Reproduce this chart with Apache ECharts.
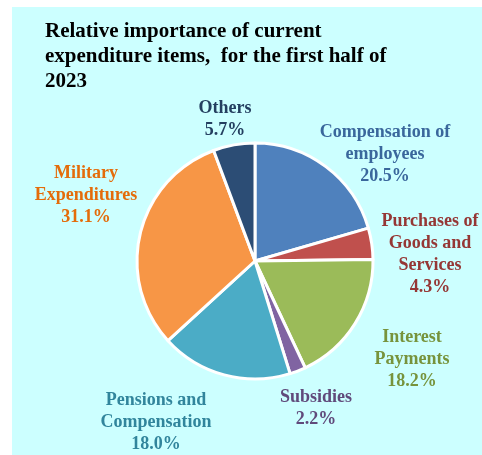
<!DOCTYPE html>
<html>
<head>
<meta charset="utf-8">
<script src="https://cdn.jsdelivr.net/npm/echarts@6/dist/echarts.min.js"></script>
<style>
html,body{margin:0;padding:0;background:#ffffff;}
#chart{width:482px;height:455px;}
</style>
</head>
<body>
<div id="chart"></div>
<script>
const categories = [
  'Compensation of\nemployees',
  'Purchases of\nGoods and\nServices',
  'Interest\nPayments',
  'Subsidies',
  'Pensions and\nCompensation',
  'Military\nExpenditures',
  'Others'
];
const values = [20.5, 4.3, 18.2, 2.2, 18.0, 31.1, 5.7];
const sliceColors = ['#4f81bd', '#c0504d', '#9bbb59', '#8064a2', '#4bacc6', '#f79646', '#2c4d75'];
const labelColors = ['#3a679c', '#953735', '#77933c', '#604a7b', '#31859c', '#e46c0a', '#243f60'];
const labelCenters = [[385, 154], [430, 254], [412, 359], [316, 408], [156, 422], [86, 195], [225, 119]];
const titleText = 'Relative importance of current\nexpenditure items,  for the first half of\n2023';

const chart = echarts.init(document.getElementById('chart'), null, {renderer: 'canvas'});
const font = 'Liberation Serif';

chart.setOption({
  backgroundColor: '#ffffff',
  animation: false,
  graphic: [{
    type: 'rect', z: -10,
    shape: {x: 12, y: 7, width: 470, height: 448},
    style: {fill: '#ccffff'}
  }],
  title: {
    text: titleText,
    left: 45, top: 19, padding: 0,
    textStyle: {fontFamily: font, fontWeight: 'bold', fontSize: 21, lineHeight: 25, color: '#000000'}
  },
  series: [{
    type: 'pie',
    center: [255, 261],
    radius: 118,
    startAngle: 90,
    clockwise: true,
    avoidLabelOverlap: false,
    itemStyle: {borderColor: '#ffffff', borderWidth: 3},
    labelLine: {show: false},
    label: {
      show: true,
      position: 'outside',
      fontFamily: font,
      fontWeight: 'bold',
      fontSize: 18,
      lineHeight: 22,
      align: 'center',
      formatter: p => p.name + '\n' + p.value.toFixed(1) + '%'
    },
    labelLayout: p => ({
      x: labelCenters[p.dataIndex][0],
      y: labelCenters[p.dataIndex][1],
      align: 'center',
      verticalAlign: 'middle'
    }),
    data: categories.map((c, i) => ({
      name: c,
      value: values[i],
      itemStyle: {color: sliceColors[i]},
      label: {color: labelColors[i]}
    }))
  }]
});
</script>
</body>
</html>
